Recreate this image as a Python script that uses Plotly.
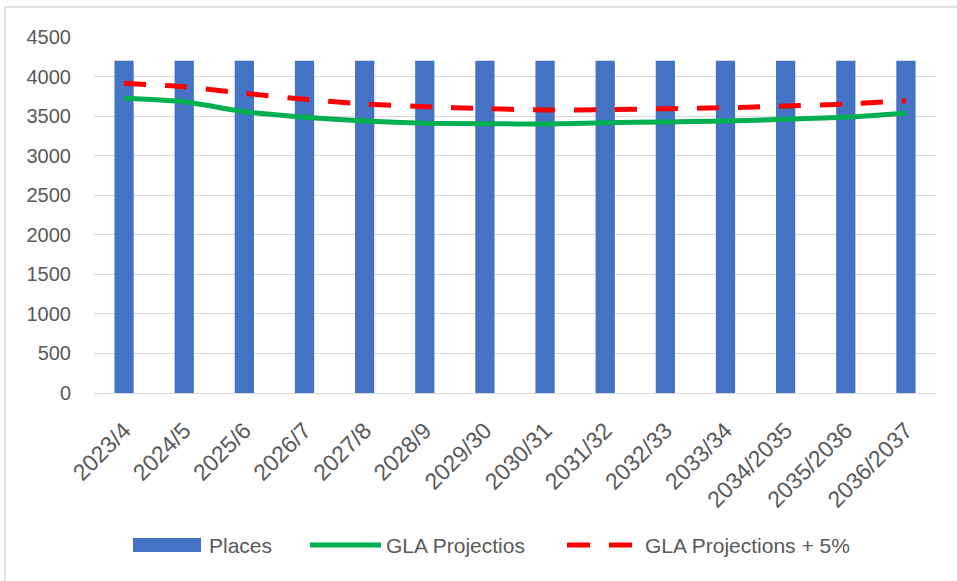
import plotly.graph_objects as go

categories = ["2023/4", "2024/5", "2025/6", "2026/7", "2027/8", "2028/9", "2029/30",
              "2030/31", "2031/32", "2032/33", "2033/34", "2034/2035", "2035/2036", "2036/2037"]
places = [4200] * 14
gla = [3725, 3682, 3556, 3485, 3438, 3409, 3405, 3400, 3417, 3425, 3438, 3460, 3485, 3535]
gla_plus5 = [3914, 3872, 3788, 3712, 3653, 3619, 3594, 3577, 3581, 3594, 3606, 3628, 3653, 3695]
y_ticks = [0, 500, 1000, 1500, 2000, 2500, 3000, 3500, 4000, 4500]
series_names = ["Places", "GLA Projectios", "GLA Projections + 5%"]
colors = ["#4472C4", "#00B050", "#FF0000"]

FONT = "Liberation Sans"
TXT = "#595959"

# plot area in pixels
L, R, T, B = 94, 936, 37, 393
W, H = R - L, B - T


def px(x):
    return (x - L) / W


def py(y):
    return (B - y) / H


fig = go.Figure()
fig.add_trace(go.Bar(x=categories, y=places, name=series_names[0], marker_color=colors[0],
                     marker_line_width=0))
fig.add_trace(go.Scatter(x=categories, y=gla, name=series_names[1], mode="lines",
                         line=dict(color=colors[1], width=5, shape="spline", smoothing=0.5)))
fig.add_trace(go.Scatter(x=categories, y=gla_plus5, name=series_names[2], mode="lines",
                         line=dict(color=colors[2], width=5, dash="22px,19px", shape="spline",
                                   smoothing=0.5)))

LY = 545
shapes = [
    # chart border
    dict(type="rect", xref="paper", yref="paper", x0=px(5), x1=px(1000), y0=py(620), y1=py(7),
         line=dict(color="#D9D9D9", width=1.5), layer="below"),
    # legend swatches
    dict(type="rect", xref="paper", yref="paper", x0=px(133), x1=px(201), y0=py(552), y1=py(538),
         fillcolor=colors[0], line=dict(width=0)),
    dict(type="line", xref="paper", yref="paper", x0=px(310), x1=px(381), y0=py(LY), y1=py(LY),
         line=dict(color=colors[1], width=5)),
    dict(type="line", xref="paper", yref="paper", x0=px(567), x1=px(590), y0=py(LY), y1=py(LY),
         line=dict(color=colors[2], width=5)),
    dict(type="line", xref="paper", yref="paper", x0=px(609), x1=px(632), y0=py(LY), y1=py(LY),
         line=dict(color=colors[2], width=5)),
]
annotations = [
    dict(text=name, xref="paper", yref="paper", x=px(xl), y=py(LY), xanchor="left", yanchor="middle",
         showarrow=False, font=dict(family=FONT, size=21, color=TXT))
    for name, xl in zip(series_names, [207, 384, 643])
]

fig.update_layout(
    width=957, height=581,
    margin=dict(l=L, r=957 - R, t=T, b=581 - B),
    paper_bgcolor="white", plot_bgcolor="white",
    bargap=0.68,
    font=dict(family=FONT, color=TXT, size=20),
    showlegend=False,
    xaxis=dict(type="category", tickangle=-45, showgrid=False, showline=True, automargin=False,
               linecolor="#D9D9D9", linewidth=1, ticks="", ticklabelstandoff=14,
               tickfont=dict(size=23, color=TXT)),
    yaxis=dict(range=[0, 4500], tickvals=y_ticks, showgrid=True, gridcolor="#D9D9D9",
               gridwidth=1, zeroline=False, showline=False, ticks="", automargin=False,
               tickfont=dict(size=20, color=TXT), ticklabelstandoff=22),
    shapes=shapes,
    annotations=annotations,
)

fig.write_html("out.html", config={"displayModeBar": False},
               post_script="document.body.style.margin='0';document.body.style.overflow='hidden';")
